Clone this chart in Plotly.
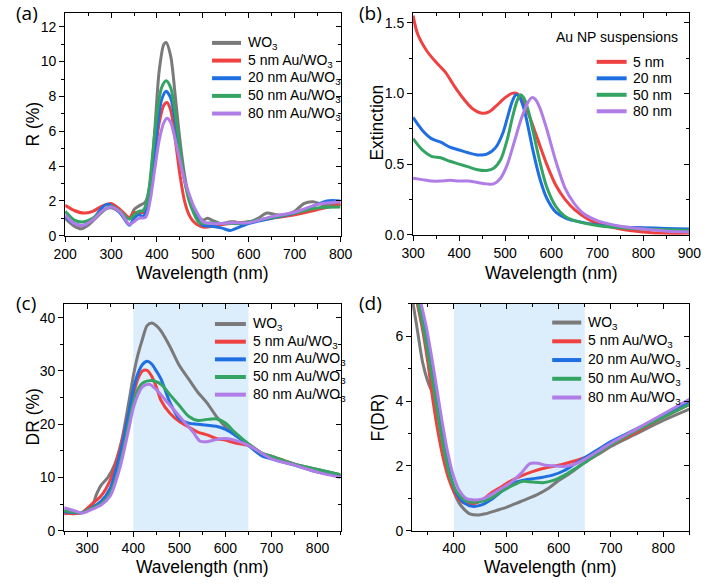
import plotly.graph_objects as go

# ---------------- data ----------------
names_film = ["WO<sub>3</sub>", "5 nm Au/WO<sub>3</sub>", "20 nm Au/WO<sub>3</sub>",
              "50 nm Au/WO<sub>3</sub>", "80 nm Au/WO<sub>3</sub>"]
names_np = ["5 nm", "20 nm", "50 nm", "80 nm"]
colors = ["#7a7a7a", "#f04141", "#1f6fe3", "#34a463", "#b07de6"]
colors_np = colors[1:]

# (a) reflectance R (%)
a_wo3_x = [200, 220, 235, 250, 270, 290, 300, 320, 340, 350, 360, 375, 385, 395, 405, 415, 420, 430, 440, 450, 460, 470, 480, 490, 500, 510, 520, 540, 560, 570, 580, 600, 620, 640, 660, 680, 700, 720, 740, 760, 780, 800]
a_wo3_y = [1.0, 0.55, 0.4, 0.6, 1.1, 1.55, 1.6, 1.35, 1.0, 1.5, 1.7, 1.95, 3.0, 6.0, 9.5, 11.0, 11.1, 10.3, 8.0, 5.5, 3.5, 2.2, 1.5, 1.1, 0.9, 1.0, 0.9, 0.7, 0.8, 0.8, 0.7, 0.75, 1.0, 1.3, 1.2, 1.2, 1.4, 1.85, 1.95, 1.8, 1.8, 1.8]
a_5_x = [200, 220, 240, 260, 280, 300, 320, 340, 350, 360, 375, 385, 395, 405, 415, 422, 430, 440, 450, 460, 470, 480, 490, 500, 510, 530, 560, 600, 650, 700, 750, 800]
a_5_y = [1.75, 1.45, 1.3, 1.4, 1.7, 1.85, 1.5, 1.05, 1.35, 1.3, 1.4, 2.5, 4.5, 6.5, 7.5, 7.65, 7.2, 5.5, 3.5, 2.0, 1.2, 0.8, 0.6, 0.5, 0.5, 0.6, 0.7, 0.8, 1.0, 1.2, 1.5, 1.8]
a_20_x = [200, 220, 240, 260, 280, 290, 300, 320, 340, 350, 360, 370, 380, 390, 400, 410, 420, 430, 440, 450, 460, 470, 480, 490, 500, 520, 540, 560, 570, 600, 650, 700, 740, 770, 800]
a_20_y = [1.1, 0.7, 0.6, 0.95, 1.6, 1.8, 1.75, 1.3, 0.6, 1.0, 1.2, 1.1, 1.8, 3.5, 6.0, 7.8, 8.3, 7.9, 6.5, 4.8, 3.2, 2.2, 1.5, 0.9, 0.6, 0.55, 0.45, 0.3, 0.4, 0.7, 1.0, 1.3, 1.7, 2.0, 2.0]
a_50_x = [200, 220, 240, 260, 280, 300, 320, 340, 350, 360, 370, 380, 390, 400, 410, 420, 430, 440, 450, 460, 470, 480, 490, 500, 520, 540, 560, 580, 600, 650, 700, 750, 800]
a_50_y = [1.4, 0.9, 0.8, 1.0, 1.4, 1.7, 1.4, 0.95, 1.2, 1.4, 1.45, 2.2, 4.5, 7.0, 8.5, 8.9, 8.5, 7.0, 5.0, 3.2, 2.0, 1.3, 0.8, 0.7, 0.75, 0.7, 0.7, 0.7, 0.8, 1.05, 1.3, 1.6, 1.65]
a_80_x = [200, 220, 240, 260, 280, 300, 320, 340, 350, 360, 375, 385, 395, 405, 415, 422, 430, 440, 450, 460, 470, 480, 490, 500, 520, 540, 560, 600, 650, 700, 750, 800]
a_80_y = [1.2, 0.7, 0.6, 0.9, 1.4, 1.65, 1.35, 0.65, 0.8, 1.0, 1.05, 2.0, 3.8, 5.5, 6.5, 6.75, 6.5, 5.5, 4.3, 3.2, 2.4, 1.7, 1.2, 0.8, 0.7, 0.7, 0.75, 0.75, 1.1, 1.35, 1.8, 1.95]

# (b) extinction of Au NP suspensions
b_5_x = [300, 310, 330, 350, 370, 390, 410, 430, 450, 465, 480, 500, 515, 525, 535, 550, 570, 590, 610, 630, 650, 680, 700, 750, 800, 850, 900]
b_5_y = [1.55, 1.42, 1.3, 1.22, 1.15, 1.05, 0.96, 0.89, 0.86, 0.87, 0.91, 0.97, 1.0, 1.0, 0.96, 0.86, 0.68, 0.5, 0.35, 0.25, 0.18, 0.11, 0.08, 0.04, 0.02, 0.01, 0.01]
b_20_x = [300, 320, 340, 360, 380, 400, 420, 440, 460, 480, 495, 505, 515, 523, 530, 540, 550, 560, 575, 590, 610, 630, 650, 700, 750, 800, 850, 900]
b_20_y = [0.83, 0.74, 0.68, 0.655, 0.62, 0.6, 0.58, 0.565, 0.57, 0.62, 0.72, 0.83, 0.94, 0.99, 0.98, 0.9, 0.76, 0.6, 0.4, 0.26, 0.16, 0.12, 0.1, 0.07, 0.055, 0.05, 0.045, 0.04]
b_50_x = [300, 320, 340, 360, 380, 400, 420, 440, 460, 475, 490, 505, 515, 525, 533, 540, 550, 560, 575, 590, 610, 630, 650, 700, 750, 800, 850, 900]
b_50_y = [0.68, 0.6, 0.555, 0.545, 0.52, 0.5, 0.48, 0.46, 0.455, 0.47, 0.53, 0.68, 0.82, 0.94, 0.99, 0.97, 0.88, 0.74, 0.52, 0.34, 0.2, 0.13, 0.1, 0.065, 0.05, 0.04, 0.035, 0.03]
b_80_x = [300, 320, 340, 360, 380, 400, 420, 440, 460, 475, 490, 505, 520, 535, 550, 558, 565, 575, 590, 610, 630, 650, 670, 700, 750, 800, 850, 900]
b_80_y = [0.40, 0.39, 0.38, 0.38, 0.385, 0.38, 0.38, 0.37, 0.36, 0.36, 0.4, 0.5, 0.66, 0.82, 0.94, 0.97, 0.96, 0.9, 0.75, 0.52, 0.33, 0.22, 0.15, 0.1, 0.06, 0.04, 0.025, 0.02]

# (c) diffuse reflectance DR (%)
c_wo3_x = [250, 270, 290, 310, 320, 330, 345, 360, 375, 390, 400, 410, 420, 430, 440, 450, 460, 480, 500, 520, 540, 560, 580, 600, 620, 650, 680, 700, 750, 800, 850]
c_wo3_y = [3.2, 3.3, 3.4, 4.5, 6.8, 8.5, 10, 12.5, 17, 24, 29, 33, 36, 38.5, 39, 38.5, 37.5, 34.5, 31, 28.5, 26, 24, 21.5, 19.5, 18, 16.3, 14.5, 13.8, 12.5, 11.5, 10.5]
c_5_x = [250, 270, 290, 310, 330, 350, 370, 390, 400, 410, 420, 430, 440, 450, 460, 480, 500, 520, 540, 560, 580, 600, 620, 650, 680, 700, 750, 800, 850]
c_5_y = [3.3, 3.2, 3.5, 5, 6.5, 9.5, 15, 22, 25.5, 28.5, 30, 30.1, 29, 27, 24.5, 22, 20.5, 19.5, 18.5, 18, 17.3, 17, 16.5, 16, 14.5, 14, 12.5, 11.3, 10.3]
c_20_x = [250, 270, 290, 310, 330, 350, 370, 390, 400, 410, 420, 430, 440, 450, 460, 480, 500, 520, 540, 560, 580, 600, 620, 650, 680, 700, 750, 800, 850]
c_20_y = [3.6, 3.4, 3.4, 4.3, 5.5, 8, 14, 22, 26.5, 29.5, 31.2, 31.8, 31.3, 30, 28.5, 24, 21, 20.2, 20, 19.8, 19.6, 19, 18, 16, 14, 13.5, 12.3, 11, 10.3]
c_50_x = [250, 270, 290, 310, 330, 350, 370, 390, 400, 410, 420, 440, 460, 480, 500, 520, 540, 560, 580, 600, 620, 650, 680, 700, 750, 800, 850]
c_50_y = [3.8, 3.5, 3.4, 4.2, 5, 7, 12, 20, 24, 26.5, 27.7, 28.2, 27.5, 25.5, 23.5, 21.5, 20.7, 20.9, 21, 20.2, 18.5, 16.3, 14.5, 14, 12.5, 11.5, 10.5]
c_80_x = [250, 270, 290, 310, 330, 350, 370, 390, 400, 410, 420, 435, 450, 470, 490, 510, 530, 545, 560, 580, 600, 620, 650, 680, 700, 750, 800, 850]
c_80_y = [4.3, 3.8, 3.3, 4, 4.8, 6.5, 11.5, 19, 23, 25.5, 27, 27.5, 26.5, 24.5, 22.5, 20.5, 18.5, 16.8, 16.7, 17.1, 17.3, 17, 16, 14.5, 13.5, 12.3, 11, 10]

# (d) Kubelka-Munk F(DR)
d_wo3_x = [320, 330, 340, 350, 360, 370, 380, 390, 400, 410, 420, 430, 445, 460, 480, 500, 520, 540, 560, 580, 600, 620, 650, 680, 700, 750, 800, 850]
d_wo3_y = [7.2, 6.2, 5.2, 4.6, 4.2, 3.5, 2.6, 1.8, 1.2, 0.85, 0.65, 0.52, 0.48, 0.52, 0.62, 0.72, 0.85, 0.98, 1.12, 1.3, 1.55, 1.75, 2.1, 2.4, 2.6, 3.0, 3.4, 3.75]
d_5_x = [326, 340, 350, 360, 370, 380, 390, 400, 410, 420, 435, 450, 470, 490, 510, 530, 550, 570, 600, 630, 650, 680, 700, 750, 800, 850]
d_5_y = [7.3, 6.2, 5.2, 4.0, 3.0, 2.2, 1.6, 1.2, 0.95, 0.85, 0.82, 0.9, 1.15, 1.35, 1.55, 1.7, 1.82, 1.92, 2.02, 2.15, 2.25, 2.45, 2.65, 3.05, 3.5, 3.9]
d_20_x = [331, 345, 355, 365, 375, 385, 395, 405, 420, 435, 450, 470, 490, 510, 530, 550, 570, 590, 610, 630, 650, 680, 700, 750, 800, 850]
d_20_y = [7.3, 6.2, 5.2, 4.2, 3.2, 2.3, 1.6, 1.15, 0.85, 0.75, 0.78, 0.95, 1.2, 1.45, 1.55, 1.6, 1.65, 1.72, 1.85, 2.05, 2.25, 2.55, 2.75, 3.15, 3.55, 4.0]
d_50_x = [328, 342, 352, 362, 372, 382, 392, 405, 420, 435, 450, 470, 490, 510, 530, 550, 570, 590, 610, 630, 650, 680, 700, 750, 800, 850]
d_50_y = [7.3, 6.2, 5.3, 4.3, 3.3, 2.4, 1.7, 1.2, 0.95, 0.88, 0.9, 1.0, 1.2, 1.38, 1.52, 1.5, 1.48, 1.55, 1.7, 1.9, 2.1, 2.45, 2.65, 3.1, 3.5, 3.9]
d_80_x = [333, 347, 357, 367, 377, 387, 397, 410, 425, 440, 455, 470, 490, 510, 530, 545, 560, 575, 590, 610, 630, 650, 680, 700, 750, 800, 850]
d_80_y = [7.3, 6.3, 5.4, 4.4, 3.4, 2.5, 1.8, 1.25, 0.98, 0.95, 0.98, 1.1, 1.3, 1.5, 1.8, 2.07, 2.08, 2.02, 2.0, 1.98, 2.05, 2.2, 2.5, 2.7, 3.15, 3.6, 4.05]

# shaded wavelength window
shade_range = [400, 650]

FONT = "Liberation Sans, Arial, sans-serif"
fig = go.Figure()

panel_a = [(a_wo3_x, a_wo3_y), (a_5_x, a_5_y), (a_20_x, a_20_y), (a_50_x, a_50_y), (a_80_x, a_80_y)]
panel_b = [(b_5_x, b_5_y), (b_20_x, b_20_y), (b_50_x, b_50_y), (b_80_x, b_80_y)]
panel_c = [(c_wo3_x, c_wo3_y), (c_5_x, c_5_y), (c_20_x, c_20_y), (c_50_x, c_50_y), (c_80_x, c_80_y)]
panel_d = [(d_wo3_x, d_wo3_y), (d_5_x, d_5_y), (d_20_x, d_20_y), (d_50_x, d_50_y), (d_80_x, d_80_y)]

def add_panel(data, names, cols, ax):
    for (x, y), n, c in zip(data, names, cols):
        fig.add_trace(go.Scatter(x=x, y=y, name=n, mode="lines", showlegend=False,
                                 line=dict(color=c, width=3, shape="spline", smoothing=0.8),
                                 xaxis="x" + ax, yaxis="y" + ax))

add_panel(panel_a, names_film, colors, "")
add_panel(panel_b, names_np, colors_np, "2")
add_panel(panel_c, names_film, colors, "3")
add_panel(panel_d, names_film, colors, "4")

W, H = 714, 588
def dom_x(l, r):
    return [l / W, r / W]
def dom_y(t, b):
    return [1 - b / H, 1 - t / H]

panels = {
    "": dict(xd=dom_x(55, 340), yd=dom_y(13, 239), xr=[200, 800], yr=[0, 12.8], xdt=100, ydt=2,
             ytitle="R (%)", yfmt=None, x0=200, ytx=22, yty=126, xty=277),
    "2": dict(xd=dom_x(415, 701), yd=dom_y(13, 238), xr=[300, 900], yr=[0, 1.57], xdt=100, ydt=0.5,
              ytitle="Extinction", yfmt=".1f", x0=300, ytx=378, yty=124, xty=277),
    "3": dict(xd=dom_x(54, 340), yd=dom_y(308, 538), xr=[250, 850], yr=[0, 42.6], xdt=100, ydt=10,
              ytitle="DR (%)", yfmt=None, x0=300, ytx=22, yty=423, xty=575),
    "4": dict(xd=dom_x(414, 701), yd=dom_y(308, 538), xr=[320, 850], yr=[0, 7], xdt=100, ydt=2,
              ytitle="F(DR)", yfmt=None, x0=400, ytx=379, yty=423, xty=575),
}

layout = dict(width=W, height=H, margin=dict(l=0, r=0, t=0, b=0),
              paper_bgcolor="white", plot_bgcolor="white", font=dict(family=FONT, color="black"),
              shapes=[], annotations=[], showlegend=False)

tickfont = dict(family=FONT, size=14, color="black")
titlefont = dict(family=FONT, size=17.5, color="black")
overlay_idx = {"": "5", "2": "6", "3": "7", "4": "8"}

for ax, p in panels.items():
    xa = "xaxis" + ax
    ya = "yaxis" + ax
    yid = "y" + ax
    xid = "x" + ax
    layout[xa] = dict(domain=p["xd"], range=p["xr"], anchor=yid, showgrid=False, zeroline=False,
                      showline=True, linecolor="black", linewidth=1, mirror=True,
                      ticks="outside", ticklen=5, tickwidth=1, tickcolor="black",
                      tick0=p["x0"], dtick=p["xdt"], tickfont=tickfont,
                      minor=dict(ticks="outside", ticklen=3, tickcolor="black", dtick=p["xdt"] / 2, tick0=p["x0"]))
    layout[ya] = dict(domain=p["yd"], range=p["yr"], anchor=xid, showgrid=False, zeroline=False,
                      showline=True, linecolor="black", linewidth=1, mirror=True,
                      ticks="outside", ticklen=5, tickwidth=1, tickcolor="black",
                      tick0=0, dtick=p["ydt"], tickfont=tickfont, tickformat=p["yfmt"],
                      minor=dict(ticks="outside", ticklen=3, tickcolor="black", dtick=p["ydt"] / 2, tick0=0))
    # axis titles placed precisely
    layout["annotations"].append(dict(text="Wavelength (nm)", xref="paper", yref="paper",
                                      x=(p["xd"][0] + p["xd"][1]) / 2, y=1 - p["xty"] / H,
                                      xanchor="center", yanchor="middle", showarrow=False, font=titlefont))
    layout["annotations"].append(dict(text=p["ytitle"], xref="paper", yref="paper", textangle=-90,
                                      x=p["ytx"] / W, y=1 - p["yty"] / H,
                                      xanchor="center", yanchor="middle", showarrow=False, font=titlefont))
    # inward mirrored ticks on top/right
    o = overlay_idx[ax]
    layout["xaxis" + o] = dict(overlaying=xid, anchor=yid, side="top", range=p["xr"], showgrid=False,
                               zeroline=False, showline=False, showticklabels=False,
                               ticks="inside", ticklen=5, tickcolor="black", tick0=p["x0"], dtick=p["xdt"],
                               minor=dict(ticks="inside", ticklen=3, tickcolor="black", dtick=p["xdt"] / 2, tick0=p["x0"]))
    layout["yaxis" + o] = dict(overlaying=yid, anchor=xid, side="right", range=p["yr"], showgrid=False,
                               zeroline=False, showline=False, showticklabels=False,
                               ticks="inside", ticklen=5, tickcolor="black", tick0=0, dtick=p["ydt"],
                               minor=dict(ticks="inside", ticklen=3, tickcolor="black", dtick=p["ydt"] / 2, tick0=0))
    fig.add_trace(go.Scatter(x=[], y=[], xaxis="x" + o, yaxis="y" + o, showlegend=False, hoverinfo="skip"))

# shaded windows in (c) and (d)
for ax in ["3", "4"]:
    layout["shapes"].append(dict(type="rect", xref="x" + ax, yref="y" + ax + " domain",
                                 x0=shade_range[0], x1=shade_range[1], y0=0, y1=1,
                                 fillcolor="#dcedfb", line=dict(width=0), layer="below"))

# hand-placed legends (Origin-style compact spacing)
legfont = dict(family=FONT, size=14, color="black")
def legend_block(names, cols, x_line0, x_line1, x_text, y0, dy):
    for i, (n, c) in enumerate(zip(names, cols)):
        yy = 1 - (y0 + i * dy) / H
        layout["shapes"].append(dict(type="line", xref="paper", yref="paper",
                                     x0=x_line0 / W, x1=x_line1 / W, y0=yy, y1=yy,
                                     line=dict(color=c, width=4)))
        layout["annotations"].append(dict(text=n, x=x_text / W, y=yy, xref="paper", yref="paper",
                                          xanchor="left", yanchor="middle", showarrow=False, font=legfont))

legend_block(names_film, colors, 207, 237, 242, 43.5, 17.9)
legend_block(names_np, colors_np, 605, 636, 641, 62.7, 16.7)
legend_block(names_film, colors, 210, 242, 247, 328.5, 17.9)
legend_block(names_film, colors, 559, 589, 594, 327, 19.0)

for txt, xp, yp in [("(a)", 2, 13), ("(b)", 357, 13), ("(c)", 2, 307), ("(d)", 357, 307)]:
    layout["annotations"].append(dict(text=txt, x=xp / W, y=1 - yp / H, xref="paper", yref="paper",
                                      xanchor="left", yanchor="middle", showarrow=False,
                                      font=dict(family="Open Sans, sans-serif", size=19, color="black")))
layout["annotations"].append(dict(text="Au NP suspensions", x=561 / W, y=1 - 38 / H, xref="paper", yref="paper",
                                  xanchor="left", yanchor="middle", showarrow=False, font=legfont))

fig.update_layout(**layout)
fig.write_html("out.html")
